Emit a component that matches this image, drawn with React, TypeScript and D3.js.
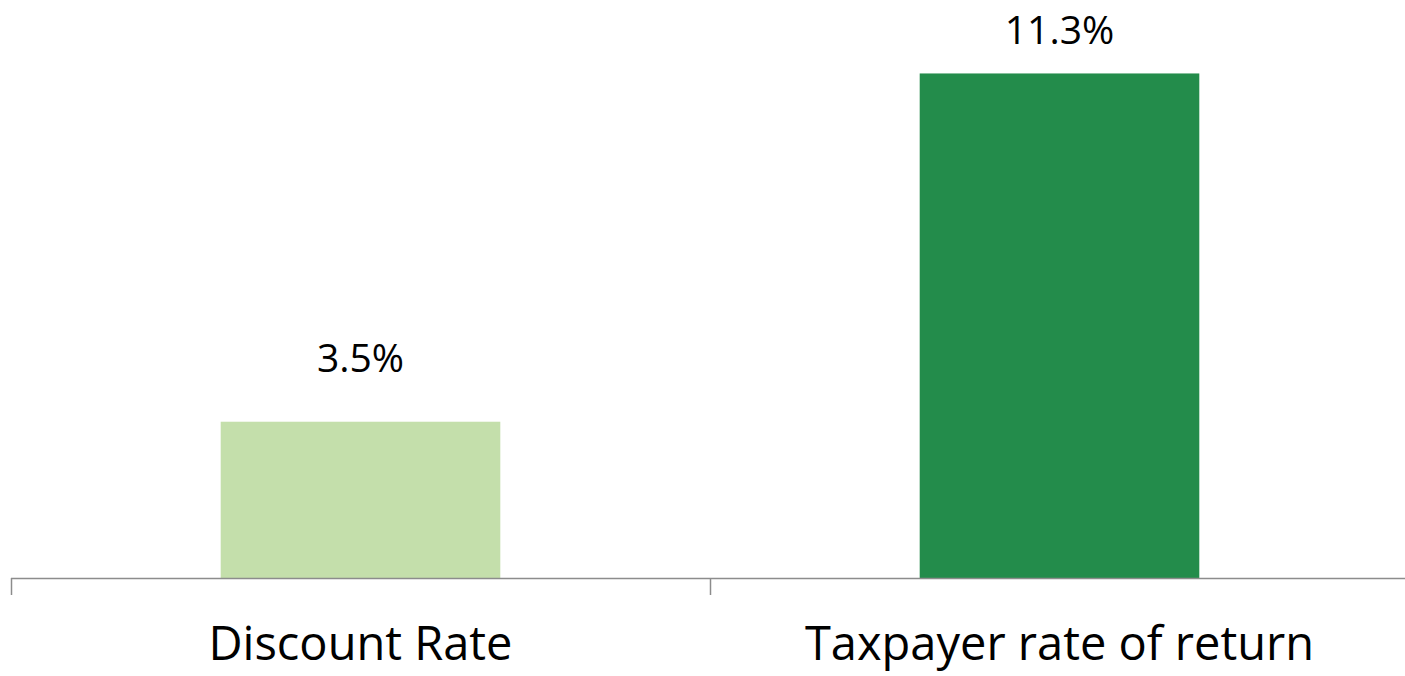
import { useEffect, useRef } from 'react';
import * as d3 from 'd3';

// values
const categories = ['Discount Rate', 'Taxpayer rate of return'];
const values = [3.5, 11.3];
const valueLabels = ['3.5%', '11.3%'];
const barColors = ['#c4dfab', '#238c4b'];

export default function App() {
  const svgRef = useRef<SVGSVGElement>(null);

  useEffect(() => {
    if (!svgRef.current) return;
    const svg = d3.select(svgRef.current);
    svg.selectAll('*').remove();

    const width = 1405;
    const height = 676;
    const baseline = 578;
    const font = "'Open Sans', 'Noto Sans', sans-serif";

    svg.attr('width', width).attr('height', height);

    // Scales
    const x = d3.scaleBand<string>().domain(categories).range([11, 1409]).paddingInner(0.6).paddingOuter(0.3);
    const y = d3.scaleLinear().domain([0, 12.5]).range([baseline, baseline - 12.5 * 44.65]);

    // Bars
    svg
      .append('g')
      .selectAll('rect')
      .data(values)
      .enter()
      .append('rect')
      .attr('x', (d, i) => x(categories[i]) as number)
      .attr('y', (d) => y(d))
      .attr('width', x.bandwidth())
      .attr('height', (d) => baseline - y(d))
      .attr('fill', (d, i) => barColors[i]);

    // Axis line and tick marks between categories
    const step = x.step();
    const first = (x(categories[0]) as number) - (step - x.bandwidth()) / 2;
    const tickPos = d3.range(categories.length + 1).map((i) => first + i * step);

    svg
      .append('line')
      .attr('x1', tickPos[0])
      .attr('x2', width)
      .attr('y1', baseline + 0.5)
      .attr('y2', baseline + 0.5)
      .attr('stroke', '#8c8c8c')
      .attr('stroke-width', 1.5);

    svg
      .append('g')
      .selectAll('line')
      .data(tickPos)
      .enter()
      .append('line')
      .attr('x1', (d) => Math.round(d) + 0.5)
      .attr('x2', (d) => Math.round(d) + 0.5)
      .attr('y1', baseline)
      .attr('y2', baseline + 17)
      .attr('stroke', '#8c8c8c')
      .attr('stroke-width', 1.5);

    // Category labels
    svg
      .append('g')
      .selectAll('text')
      .data(categories)
      .enter()
      .append('text')
      .attr('x', (d) => (x(d) as number) + x.bandwidth() / 2)
      .attr('y', 660)
      .attr('text-anchor', 'middle')
      .attr('font-family', font)
      .attr('font-size', '47px')
      .attr('fill', '#000')
      .text((d) => d);

    // Value labels
    svg
      .append('g')
      .selectAll('text')
      .data(values)
      .enter()
      .append('text')
      .attr('x', (d, i) => (x(categories[i]) as number) + x.bandwidth() / 2)
      .attr('y', (d) => Math.max(y(d) - 50, 44))
      .attr('text-anchor', 'middle')
      .attr('font-family', font)
      .attr('font-size', '39px')
      .attr('fill', '#000')
      .text((d, i) => valueLabels[i]);
  }, []);

  return (
    <div style={{ position: 'absolute', left: 0, top: 0, width: 1405, height: 676, background: '#fff' }}>
      <svg ref={svgRef} style={{ display: 'block' }} />
    </div>
  );
}
